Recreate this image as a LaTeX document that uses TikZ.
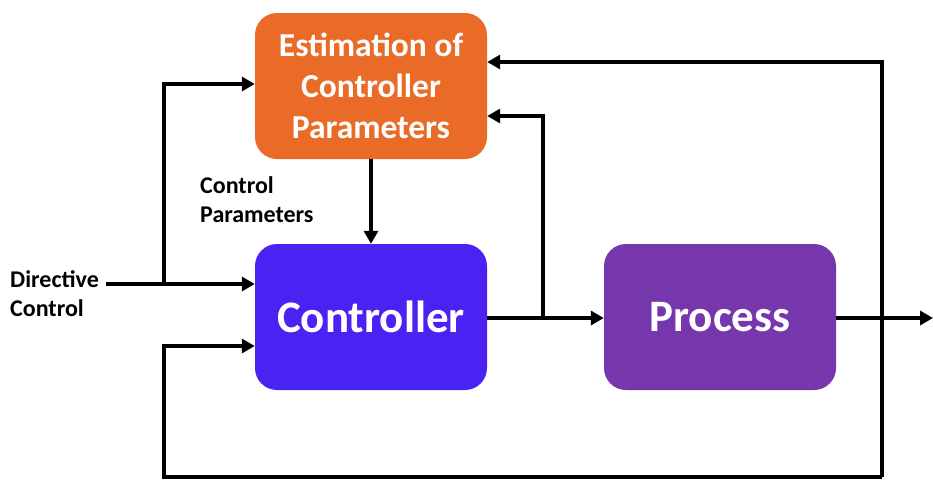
\documentclass[tikz,border=0pt]{standalone}
\usepackage{fontspec}
\setmainfont{Carlito}
\usetikzlibrary{arrows.meta}
\definecolor{estc}{HTML}{EA6B27}
\definecolor{ctrlc}{HTML}{4A22F2}
\definecolor{procc}{HTML}{7636AC}
\begin{document}
\begin{tikzpicture}[x=1pt,y=-1pt,
  blk/.style={rounded corners=22pt, minimum width=232pt, minimum height=146pt, inner sep=0pt, text=white, font=\bfseries, align=center},
  wire/.style={line width=3.8pt, -{Triangle[length=13pt,width=14pt]}},
  lbl/.style={font=\bfseries\fontsize{24}{29}\selectfont, align=left, inner sep=0pt}]
\useasboundingbox (0,0) rectangle (933,480);
\node[blk, fill=estc, font=\bfseries\fontsize{33.5}{41}\selectfont] (est) at (371,86) {Estimation of\\Controller\\Parameters};
\node[blk, fill=ctrlc, font=\bfseries\fontsize{45}{50}\selectfont] (ctrl) at (371,317) {Controller};
\node[blk, fill=procc, font=\bfseries\fontsize{45}{50}\selectfont] (proc) at (720,317) {Process};
\node[lbl, anchor=west] (dc) at (10,294) {Directive\\Control};
\node[lbl, anchor=west] (cp) at (200,200) {Control\\Parameters};
\coordinate (dcend) at (106,284);
\coordinate (b1) at (164,284);
\coordinate (b1t) at (164,84);
\coordinate (b2) at (543,318);
\coordinate (b2t) at (543,116);
\coordinate (r) at (882,318);
\coordinate (rt) at (882,62);
\coordinate (rb) at (882,477);
\coordinate (lb) at (164,477);
\coordinate (lt) at (164,346);
\coordinate (out) at (933,318);
% directive control input
\draw[wire] (dcend) -- (ctrl.west |- dcend);
\draw[wire] (b1) -- (b1t) -- (est.west |- b1t);
% estimation down to controller
\draw[wire] (est.south) -- (ctrl.north);
% controller to process
\draw[wire] (ctrl.east |- b2) -- (proc.west |- b2);
\draw[wire] (b2) -- (b2t) -- (est.east |- b2t);
% process output
\draw[wire] (proc.east |- r) -- (out);
% feedback loops
\draw[wire] (rb) -- (rt) -- (est.east |- rt);
\draw[wire] (rb) -- (lb) -- (lt) -- (ctrl.west |- lt);
\end{tikzpicture}
\end{document}
